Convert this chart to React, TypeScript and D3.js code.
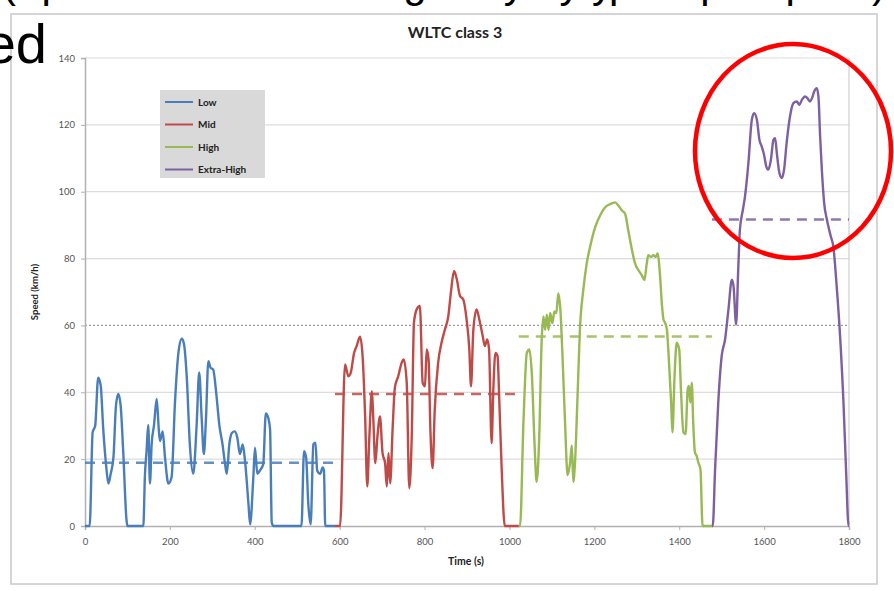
import * as d3 from 'd3';
import { useRef, useEffect } from 'react';

// WLTC class 3 speed trace as [time s, speed km/h]
const lowPhase: [number, number][] = [
  [0, 0], [11, 0], [18, 28], [24, 30], [31, 44.4], [37, 42], [43, 29], [49.5, 18.5], [55, 12.7], [60.5, 15.6],
  [67, 20.5], [73, 36], [78.5, 39.5], [84, 36], [90, 22.4], [98, 1.5], [100, 0], [137.5, 0], [141, 14.6],
  [145, 22.4], [149, 30.2], [153, 12.7], [157, 24.4], [162.6, 30.2], [169, 38], [173.6, 29.3], [176.7, 25.4],
  [183, 28.3], [188.5, 20.5], [196.4, 12.7], [204, 14.6], [212, 37], [220, 51.7], [228, 56], [233, 54.6],
  [240, 44], [247, 24.4], [255, 15.6], [263, 30.2], [269, 45.9], [275, 32], [280, 21.5], [285, 32],
  [290.6, 49.3], [296, 47.3], [302, 46.8], [309, 40], [316.5, 30.2], [324, 24.4], [330, 18.5], [334, 15.6],
  [340, 24.4], [346, 27.8], [353, 28.3], [359, 26.3], [365, 21.5], [371.5, 24.4], [377, 19.5], [385, 6.8],
  [389, 0.5], [396.6, 14.6], [400.5, 23.4], [406, 15.6], [412, 16.6], [420, 18.5], [426, 33.7], [432, 32.2],
  [436, 29], [440, 1], [444, 0], [510, 0], [516, 22.4], [521, 20.5], [526, 6.8], [531.7, 0.5], [538, 24.4],
  [543, 24.9], [547, 16.6], [554, 15.6], [560, 17.5], [563, 16.6], [566, 0], [589, 0],
];
const midPhase: [number, number][] = [
  [589, 0], [601, 0], [612.6, 48.3], [620.5, 44.8], [626, 45.8], [634, 51.8], [640, 53.8], [648, 56.6],
  [654, 50.8], [660, 32.8], [665, 11.8], [670, 26.8], [676, 40.3], [679, 32.8], [684, 18.8], [689, 26.8],
  [695, 32.8], [701, 21.8], [707, 18.8], [711, 11.8], [715, 21.8], [719, 12.8], [725, 29.8], [730, 41.3],
  [738, 44.8], [746, 48.8], [751, 49.8], [758, 42.8], [764, 11.3], [770, 27.8], [775, 60.8], [781.5, 64.8],
  [789, 65.8], [795.6, 42.8], [801, 41.8], [805, 52.8], [809.5, 49.8], [814, 27.8], [819, 17.3], [824, 34.8],
  [832, 48.8], [840, 54.8], [848, 58.8], [856, 62.8], [862, 69.8], [869.5, 76.3], [876, 73.8], [883.5, 68.8],
  [891, 67.8], [899, 61.8], [905.5, 52.8], [909.4, 41.8], [915, 58.8], [922.6, 64.8], [929, 61.8], [937, 56.8],
  [942, 53.8], [947.6, 55.8], [952, 52.8], [958, 24.8], [962, 40.8], [967, 51.8], [972, 50.8], [976, 37.8],
  [981.5, 17.8], [989, 0], [1022, 0],
];
const highPhase: [number, number][] = [
  [1022, 0], [1025, 0], [1033, 31], [1041, 51.8], [1047, 52.8], [1053, 44.9], [1059, 25], [1064, 13.2],
  [1070, 26], [1076, 55.7], [1080, 62.7], [1084, 58.7], [1088, 63.2], [1092, 58.7], [1096, 63.7], [1101, 60.7],
  [1106, 64.2], [1110.6, 63.7], [1115, 69.6], [1120, 64.7], [1125, 50.8], [1131, 31], [1137, 15.2],
  [1143, 19.1], [1147, 24.1], [1150.5, 13.2], [1154.5, 19.1], [1161, 40.9], [1166, 58.7], [1174, 70.6],
  [1182, 78.5], [1190, 83.5], [1202, 89.4], [1213.5, 92.9], [1225, 95.3], [1237, 96.3], [1249, 96.8],
  [1257, 95.8], [1265, 94.4], [1272.5, 93.4], [1280, 88.4], [1288, 83], [1296, 78.5], [1304, 76.5], [1312, 75],
  [1318, 73.6], [1323.5, 78.5], [1327, 81], [1334, 80.5], [1339, 81], [1345, 80.5], [1349, 81.5], [1355, 74.6],
  [1359, 66.6], [1363, 61.7], [1367, 60.7], [1371, 58.7], [1376, 48.8], [1381, 36.9], [1384, 28], [1389, 44.9],
  [1394, 54.8], [1400, 52.8], [1404, 40.9], [1410, 28], [1415, 27.5], [1420, 40.9], [1423, 41.9], [1426, 36.9],
  [1429.5, 42.9], [1433, 31], [1437, 22], [1441, 21], [1445, 19], [1450, 17], [1455, 0], [1477, 0],
];
const extraHighPhase: [number, number][] = [
  [1477, 0], [1479, 0], [1484.5, 17], [1492, 37], [1500, 50.8], [1508, 55.8], [1516, 64.8], [1524, 73.7],
  [1528, 71.7], [1534, 60.3], [1539, 76.7], [1543, 88.7], [1550, 94.6], [1555, 98.6], [1563, 108.6],
  [1571, 121.5], [1576.5, 123.5], [1583, 121.5], [1589, 115.5], [1594.5, 113.5], [1600, 111], [1605, 107.6],
  [1610, 106.6], [1616, 109.6], [1622, 115.5], [1626, 116], [1630, 111.5], [1636, 105.6], [1642, 104.1],
  [1647, 106.6], [1653, 114.5], [1661, 122.5], [1669, 126.5], [1677, 127], [1683, 126], [1689, 127.5],
  [1696.5, 128.5], [1702, 128], [1708, 127], [1713, 128], [1718, 130], [1724, 131], [1728, 128.5],
  [1732, 116.5], [1736, 106.6], [1741.5, 96.6], [1748, 91.6], [1757, 86.7], [1763, 83.7], [1771, 71.7],
  [1779, 56.8], [1787, 36.9], [1793, 17], [1799, 0], [1800, 0],
];

const phaseNames = ['Low', 'Mid', 'High', 'Extra-High'];
const phaseColors = ['#4a7ebb', '#be4b48', '#98b954', '#7d60a0'];
const phaseBounds = [0, 589, 1022, 1477, 1800];
const phaseAverages = [18.9, 39.5, 56.7, 91.7];
const phaseData = [lowPhase, midPhase, highPhase, extraHighPhase];

const xTicks = [0, 200, 400, 600, 800, 1000, 1200, 1400, 1600, 1800];
const yTicks = [0, 20, 40, 60, 80, 100, 120, 140];

const font = 'Lato, "Open Sans", sans-serif';

const App = () => {
  const svgRef = useRef<SVGSVGElement | null>(null);

  useEffect(() => {
    const svg = d3.select(svgRef.current);
    svg.selectAll('*').remove();

    const left = 85, right = 849, top = 58, bottom = 526;
    const x = d3.scaleLinear().domain([0, 1800]).range([left, right]);
    const y = d3.scaleLinear().domain([0, 140]).range([bottom, top]);

    svg.append('rect').attr('width', 894).attr('height', 591).attr('fill', '#fff');

    // slide text behind the chart, cut off by the crop (only the descenders show)
    svg.append('text')
      .attr('x', 2).attr('y', -3)
      .attr('font-family', '"Liberation Sans", Arial, sans-serif')
      .attr('font-size', 42)
      .attr('textLength', 884)
      .attr('fill', '#000')
      .text('(representative of real driving: everyday typical speed profile)');

    // chart frame
    svg.append('rect')
      .attr('x', 11).attr('y', 14).attr('width', 866).attr('height', 570)
      .attr('fill', '#fff').attr('stroke', '#c8c8c8').attr('stroke-width', 1.5);

    svg.append('text')
      .attr('x', 47).attr('y', 63)
      .attr('text-anchor', 'end')
      .attr('font-family', '"Liberation Sans", Arial, sans-serif')
      .attr('font-size', 56)
      .attr('fill', '#000')
      .text('ed');

    svg.append('text')
      .attr('x', 455).attr('y', 38)
      .attr('text-anchor', 'middle')
      .attr('font-family', font).attr('font-weight', 'bold').attr('font-size', 16)
      .attr('fill', '#222')
      .text('WLTC class 3');

    // grid
    svg.append('g').selectAll('line')
      .data(yTicks.filter(d => d > 0))
      .enter().append('line')
      .attr('x1', left).attr('x2', right)
      .attr('y1', d => y(d)).attr('y2', d => y(d))
      .attr('stroke', d => d === 60 ? '#9a9a9a' : '#dcdcdc')
      .attr('stroke-width', d => d === 60 ? 1.3 : 1.2)
      .attr('stroke-dasharray', d => d === 60 ? '2,2' : null);

    svg.append('line')
      .attr('x1', right).attr('x2', right).attr('y1', top).attr('y2', bottom)
      .attr('stroke', '#cfcfcf').attr('stroke-width', 1.2);

    // axes
    const yAxis = svg.append('g')
      .attr('transform', `translate(${left},0)`)
      .call(d3.axisLeft(y).tickValues(yTicks).tickFormat(d3.format('d')).tickSize(4).tickPadding(6));
    const xAxis = svg.append('g')
      .attr('transform', `translate(0,${bottom})`)
      .call(d3.axisBottom(x).tickValues(xTicks).tickFormat(d3.format('d')).tickSize(4).tickPadding(8));
    [yAxis, xAxis].forEach(a => {
      a.select('.domain').attr('stroke', '#b0b0b0').attr('stroke-width', 1.5);
      a.selectAll('.tick line').attr('stroke', '#b0b0b0');
      a.selectAll('.tick text')
        .attr('font-family', font).attr('font-size', 9.5).attr('fill', '#555');
    });

    svg.append('text')
      .attr('transform', `translate(38,${(top + bottom) / 2}) rotate(-90)`)
      .attr('text-anchor', 'middle')
      .attr('font-family', font).attr('font-weight', 'bold').attr('font-size', 9.5)
      .attr('fill', '#222')
      .text('Speed (km/h)');

    svg.append('text')
      .attr('x', 466).attr('y', 565)
      .attr('text-anchor', 'middle')
      .attr('font-family', font).attr('font-weight', 'bold').attr('font-size', 10.5)
      .attr('fill', '#222')
      .text('Time (s)');

    // phase averages
    svg.append('g').selectAll('line')
      .data(phaseAverages)
      .enter().append('line')
      .attr('x1', (_, i) => x(phaseBounds[i]))
      .attr('x2', (_, i) => x(phaseBounds[i + 1]))
      .attr('y1', d => y(d)).attr('y2', d => y(d))
      .attr('stroke', (_, i) => phaseColors[i])
      .attr('stroke-opacity', 0.85)
      .attr('stroke-width', 2.6)
      .attr('stroke-dasharray', '10,7');

    // speed traces
    const line = d3.line<[number, number]>()
      .x(d => x(d[0]))
      .y(d => y(d[1]))
      .curve(d3.curveMonotoneX);

    svg.append('g').selectAll('path')
      .data(phaseData)
      .enter().append('path')
      .attr('d', d => line(d))
      .attr('fill', 'none')
      .attr('stroke', (_, i) => phaseColors[i])
      .attr('stroke-width', 2.4)
      .attr('stroke-linejoin', 'round');

    // legend
    const legend = svg.append('g').attr('transform', 'translate(160,90)');
    legend.append('rect').attr('width', 105).attr('height', 88).attr('fill', '#d9d9d9');
    const items = legend.selectAll('g.item')
      .data(phaseNames)
      .enter().append('g')
      .attr('class', 'item')
      .attr('transform', (_, i) => `translate(0,${12 + i * 22.5})`);
    items.append('line')
      .attr('x1', 5).attr('x2', 33)
      .attr('stroke', (_, i) => phaseColors[i]).attr('stroke-width', 2);
    items.append('text')
      .attr('x', 38).attr('y', 3.5)
      .attr('font-family', font).attr('font-weight', 'bold').attr('font-size', 10)
      .attr('fill', '#222')
      .text(d => d);

    // annotation
    svg.append('ellipse')
      .attr('cx', 793).attr('cy', 151).attr('rx', 98).attr('ry', 107)
      .attr('fill', 'none').attr('stroke', '#ff0000').attr('stroke-width', 4.5);
  }, []);

  return (
    <svg ref={svgRef} width={894} height={591} style={{ position: 'absolute', left: 0, top: 0 }}></svg>
  );
};

export default App;
